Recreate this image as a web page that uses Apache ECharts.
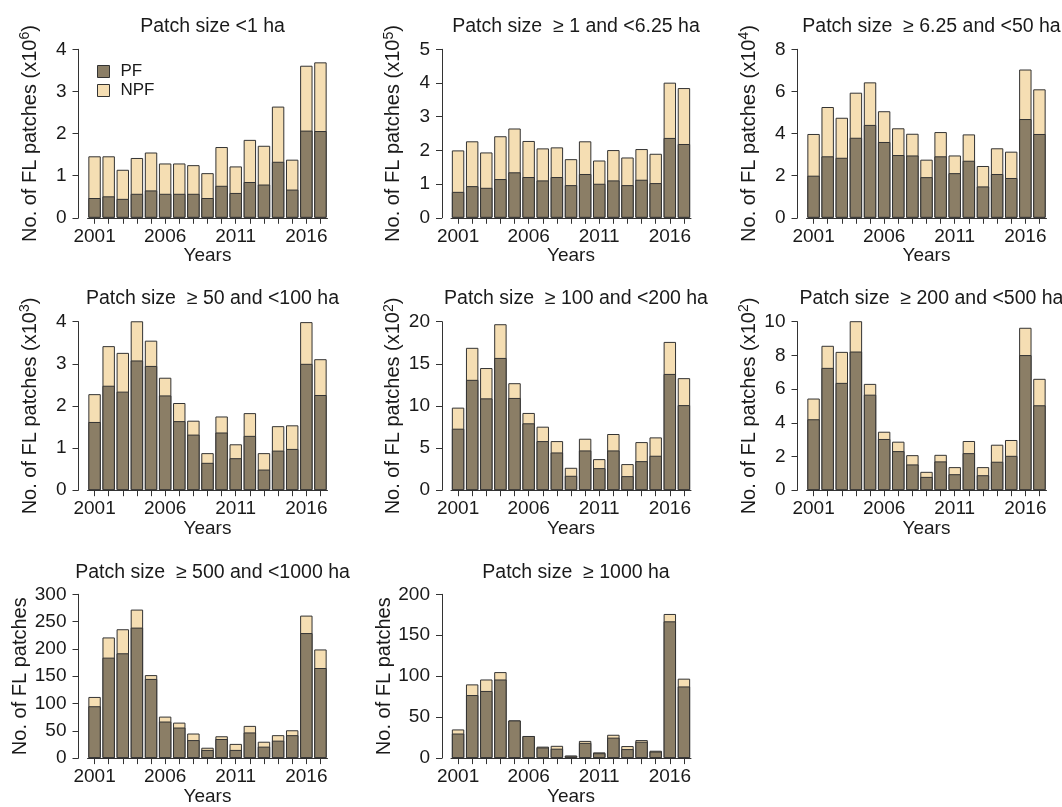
<!DOCTYPE html>
<html>
<head>
<meta charset="utf-8">
<script src="https://cdn.jsdelivr.net/npm/echarts@6/dist/echarts.min.js"></script>
<style>
html,body{margin:0;padding:0;background:#fff;}
#c{width:1062px;height:807px;}
</style>
</head>
<body>
<div id="c"></div>
<script>
const years = ['2001','2002','2003','2004','2005','2006','2007','2008','2009','2010','2011','2012','2013','2014','2015','2016','2017'];
const titles = ['Patch size <1 ha','Patch size  \u2265 1 and <6.25 ha','Patch size  \u2265 6.25 and <50 ha',
  'Patch size  \u2265 50 and <100 ha','Patch size  \u2265 100 and <200 ha','Patch size  \u2265 200 and <500 ha',
  'Patch size  \u2265 500 and <1000 ha','Patch size  \u2265 1000 ha'];
const exponents = ['6','5','4','3','2','2',null,null];
const yMax = [4,5,8,4,20,10,300,200];
const yStep = [1,1,2,1,5,2,50,50];

// Panel 1: <1 ha (x10^6)
const pf1  = [0.47,0.51,0.45,0.57,0.65,0.57,0.57,0.57,0.47,0.76,0.59,0.85,0.79,1.33,0.67,2.07,2.06];
const tot1 = [1.46,1.46,1.14,1.42,1.55,1.29,1.29,1.25,1.06,1.68,1.22,1.85,1.71,2.64,1.38,3.61,3.69];
// Panel 2: 1-6.25 ha (x10^5)
const pf2  = [0.77,0.94,0.89,1.15,1.35,1.21,1.11,1.21,0.97,1.30,1.01,1.11,0.97,1.13,1.03,2.37,2.19];
const tot2 = [2.00,2.27,1.94,2.42,2.65,2.28,2.06,2.09,1.74,2.27,1.70,2.01,1.79,2.04,1.90,4.01,3.85];
// Panel 3: 6.25-50 ha (x10^4)
const pf3  = [2.00,2.92,2.85,3.80,4.41,3.60,2.98,2.96,1.93,2.92,2.12,2.71,1.49,2.08,1.89,4.69,3.98];
const tot3 = [3.98,5.26,4.75,5.94,6.43,5.06,4.25,3.99,2.76,4.07,2.96,3.96,2.46,3.30,3.14,7.04,6.10];
// Panel 4: 50-100 ha (x10^3)
const pf4  = [1.62,2.48,2.34,3.08,2.95,2.25,1.64,1.32,0.65,1.37,0.76,1.29,0.49,0.94,0.98,3.00,2.26];
const tot4 = [2.28,3.42,3.26,4.01,3.55,2.67,2.07,1.65,0.88,1.75,1.09,1.83,0.88,1.52,1.54,3.99,3.11];
// Panel 5: 100-200 ha (x10^2)
const pf5  = [7.3,13.1,10.9,15.7,10.95,7.94,5.83,4.48,1.71,4.72,2.62,4.72,1.67,3.45,4.09,13.8,10.1];
const tot5 = [9.8,16.9,14.5,19.7,12.7,9.17,7.54,5.83,2.66,6.11,3.69,6.67,3.10,5.71,6.27,17.6,13.3];
// Panel 6: 200-500 ha (x10^2)
const pf6  = [4.21,7.26,6.37,8.23,5.67,3.04,2.32,1.53,0.79,1.71,0.95,2.20,0.89,1.69,2.04,8.02,5.04];
const tot6 = [5.44,8.57,8.21,10.08,6.31,3.47,2.88,2.08,1.09,2.10,1.37,2.92,1.37,2.70,2.98,9.64,6.61];
// Panel 7: 500-1000 ha
const pf7  = [95,184,192,239,145,67,56,33,15,35,15,47,21,32,42,229,165];
const tot7 = [112,221,236,272,152,76,65,45,19,40,26,59,30,42,51,261,199];
// Panel 8: >=1000 ha
const pf8  = [30,77,82,96,46,27,13,11.5,3,18.6,6,25,11,20,8,167,87.5];
const tot8 = [35,90,96,105,46,27,14,15,3,21,7,28.5,14.7,22,9,176,97];

const pfData = [pf1,pf2,pf3,pf4,pf5,pf6,pf7,pf8];
const totData = [tot1,tot2,tot3,tot4,tot5,tot6,tot7,tot8];

const PF_COLOR = '#8B7E66';
const NPF_COLOR = '#F5DEB3';
const INK = '#1a1a1a';
const FONT = 'Liberation Sans, Arial, sans-serif';

const colLeft = [87.5, 451, 806.5];
const rowTop = [49.3, 321.7, 594.3];
const gridW = 240, gridH = 168.5;
const titleTop = [11.5, 283.5, 558];

const grids = [], xAxes = [], yAxes = [], series = [], titleArr = [];
for (let i = 0; i < 8; i++) {
  const r = Math.floor(i / 3), c = i % 3;
  grids.push({left: colLeft[c], top: rowTop[r], width: gridW, height: gridH});
  titleArr.push({
    text: titles[i], left: colLeft[c] + gridW / 2, top: titleTop[r], textAlign: 'center',
    textStyle: {fontFamily: FONT, fontSize: 19.5, fontWeight: 'normal', color: INK}
  });
  xAxes.push({
    type: 'category', gridIndex: i, data: years,
    name: 'Years', nameLocation: 'middle', nameGap: 27,
    nameTextStyle: {fontFamily: FONT, fontSize: 19, color: INK},
    axisLine: {show: true, lineStyle: {color: '#333', width: 1}},
    axisTick: {show: true, alignWithLabel: true, interval: 0, length: 6, lineStyle: {color: '#333'}},
    axisLabel: {interval: 4, margin: 9, fontFamily: FONT, fontSize: 19, color: INK},
    splitLine: {show: false}
  });
  const exp = exponents[i];
  const nm = exp ? '{m|No. of FL patches (x10}{s|' + exp + '}{m|)}' : '{m|No. of FL patches}';
  yAxes.push({
    type: 'value', gridIndex: i, min: 0, max: yMax[i], interval: yStep[i], offset: 9,
    name: nm, nameLocation: 'middle', nameGap: exp ? 37 : 44, nameRotate: 90,
    nameTextStyle: {fontFamily: FONT, fontSize: 20, color: INK,
      rich: {m: {fontFamily: FONT, fontSize: 20, color: INK, lineHeight: 23},
             s: {fontFamily: FONT, fontSize: 14, color: INK, verticalAlign: 'top', lineHeight: 23}}},
    axisLine: {show: true, lineStyle: {color: '#333', width: 1}},
    axisTick: {show: true, length: 6, lineStyle: {color: '#333'}},
    axisLabel: {margin: 12, fontFamily: FONT, fontSize: 19, color: INK},
    splitLine: {show: false}
  });
  series.push({
    name: 'NPF', type: 'bar', xAxisIndex: i, yAxisIndex: i, data: totData[i],
    barCategoryGap: '12%', barGap: '-100%',
    itemStyle: {color: NPF_COLOR, borderColor: '#333', borderWidth: 1}, silent: true
  });
  series.push({
    name: 'PF', type: 'bar', xAxisIndex: i, yAxisIndex: i, data: pfData[i],
    barCategoryGap: '12%', barGap: '-100%',
    itemStyle: {color: PF_COLOR, borderColor: '#333', borderWidth: 1}, silent: true
  });
}

const chart = echarts.init(document.getElementById('c'), null, {renderer: 'canvas'});
chart.setOption({
  animation: false,
  backgroundColor: '#fff',
  title: titleArr,
  legend: {
    data: ['PF', 'NPF'], orient: 'vertical', left: 92, top: 58,
    itemWidth: 12, itemHeight: 12, itemGap: 2,
    icon: 'rect',
    textStyle: {fontFamily: FONT, fontSize: 17, color: INK, padding: [0, 0, 0, 6]},
    itemStyle: {borderColor: '#333', borderWidth: 1}
  },
  grid: grids, xAxis: xAxes, yAxis: yAxes, series: series
});
</script>
</body>
</html>
